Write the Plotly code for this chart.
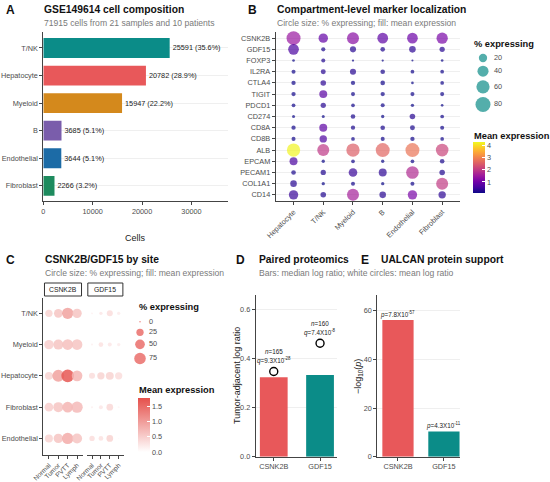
import math
import plotly.graph_objects as go

W, H = 550, 482
def px(x): return x / W
def py(y): return 1 - y / H

FONT = "Liberation Sans, Arial, sans-serif"
RED = "#E8585A"
TEAL = "#0B8C88"

# ---------------- Panel A data ----------------
cell_types = ["T/NK", "Hepatocyte", "Myeloid", "B", "Endothelial", "Fibroblast"]
cell_counts = [25591, 20782, 15947, 3685, 3644, 2266]
cell_colors = [TEAL, RED, "#D4891C", "#7A5DAB", "#1C6BA6", "#1E8B5E"]

# ---------------- Panel B data ----------------
markers_b = ["CSNK2B", "GDF15", "FOXP3", "IL2RA", "CTLA4", "TIGIT", "PDCD1", "CD274",
             "CD8A", "CD8B", "ALB", "EPCAM", "PECAM1", "COL1A1", "CD14"]
compartments_b = ["Hepatocyte", "T/NK", "Myeloid", "B", "Endothelial", "Fibroblast"]
pct_b = [
    [68, 27, 48, 37, 37, 42],
    [37, 3, 9, 4, 11, 6],
    [0.5, 2.6, 0.2, 0.2, 0.1, 0.5],
    [2.6, 5, 9, 4, 2, 2],
    [3.3, 7, 3.3, 4, 0.5, 2],
    [3.3, 18, 2.6, 3.3, 2.6, 2.6],
    [2, 6, 2, 2.6, 1.3, 0.5],
    [0.9, 0.9, 4, 1.3, 7, 2],
    [3.3, 18, 3.3, 4, 5, 2.6],
    [2.6, 15, 2, 2.6, 3.3, 2],
    [61, 48, 61, 68, 68, 54],
    [18, 1.3, 2, 1.3, 2, 4],
    [4, 6, 22, 18, 54, 7],
    [11, 1.3, 2.6, 1.3, 2.6, 48],
    [27, 7, 48, 11, 27, 15],
]
mean_b = [
    [1.45, 0.85, 1.25, 0.8, 0.95, 1.1],
    [0.6, 0.2, 0.3, 0.25, 0.35, 0.3],
    [0.1, 0.25, 0.1, 0.1, 0.1, 0.1],
    [0.15, 0.3, 0.3, 0.2, 0.15, 0.15],
    [0.15, 0.35, 0.15, 0.15, 0.1, 0.15],
    [0.15, 0.75, 0.15, 0.15, 0.15, 0.15],
    [0.15, 0.3, 0.15, 0.15, 0.1, 0.1],
    [0.1, 0.1, 0.2, 0.1, 0.3, 0.15],
    [0.15, 0.8, 0.2, 0.2, 0.2, 0.15],
    [0.15, 0.65, 0.15, 0.15, 0.15, 0.15],
    [4.2, 1.95, 2.5, 2.6, 2.8, 2.15],
    [0.6, 0.1, 0.15, 0.1, 0.15, 0.2],
    [0.2, 0.25, 0.45, 0.35, 1.75, 0.25],
    [0.3, 0.1, 0.15, 0.1, 0.15, 2.0],
    [0.45, 0.25, 1.6, 0.3, 1.1, 0.35],
]
size_breaks_b = [20, 40, 60, 80]

# ---------------- Panel C data ----------------
sites_c = ["Normal", "Tumor", "PVTT", "Lymph"]
celltypes_c = ["T/NK", "Myeloid", "Hepatocyte", "Fibroblast", "Endothelial"]
pct_c_csnk2b = [
    [25, 38, 72, 46],
    [46, 54, 62, 62],
    [31, 82, 93, 62],
    [38, 54, 62, 72],
    [31, 46, 72, 54],
]
mean_c_csnk2b = [
    [0.45, 0.6, 0.95, 0.6],
    [0.5, 0.6, 0.65, 0.6],
    [0.45, 0.95, 1.7, 0.75],
    [0.5, 0.6, 0.75, 0.7],
    [0.45, 0.6, 0.85, 0.6],
]
pct_c_gdf15 = [
    [0.1, 2.5, 15, 2.5],
    [0.2, 7.5, 4.6, 2.5],
    [15, 25, 31, 25],
    [0.2, 4.6, 20, 0.1],
    [11, 7.5, 20, 0.0],
]
mean_c_gdf15 = [
    [0.15, 0.25, 0.35, 0.2],
    [0.15, 0.3, 0.25, 0.2],
    [0.35, 0.45, 0.45, 0.35],
    [0.15, 0.25, 0.4, 0.1],
    [0.35, 0.3, 0.45, 0.05],
]
size_breaks_c = [0, 25, 50, 75]

# ---------------- Panel D data ----------------
prot_genes = ["CSNK2B", "GDF15"]
prot_median = [0.323, 0.332]
prot_mean = [0.346, 0.461]
prot_n = [165, 160]
prot_q = [9.3e-28, 7.4e-8]

# ---------------- Panel E data ----------------
ualcan_genes = ["CSNK2B", "GDF15"]
ualcan_p = [7.8e-57, 4.3e-11]


def sci(v):
    m, e = f"{v:.1e}".split("e")
    return f"{m}X10<sup>{int(e)}</sup>"

def size_b(p): return 1.6 + 1.5 * math.sqrt(p)
def size_c(p): return 1.5 + 1.16 * math.sqrt(p)

fig = go.Figure()

# ---- A ----
total = sum(cell_counts)
labels_a = [f"{c} ({100 * c / total:.1f}%)" for c in cell_counts]
fig.add_trace(go.Bar(
    y=cell_types, x=cell_counts, orientation="h", marker=dict(color=cell_colors, line_width=0),
    width=0.72, text=labels_a, textposition="outside", constraintext="none", cliponaxis=False,
    textfont=dict(size=7.3, color="#222", family=FONT), xaxis="x", yaxis="y", hoverinfo="skip"))

# ---- B ----
bx, by, bs, bc = [], [], [], []
for i, g in enumerate(markers_b):
    for j, c in enumerate(compartments_b):
        bx.append(c); by.append(g); bs.append(size_b(pct_b[i][j])); bc.append(mean_b[i][j])
fig.add_trace(go.Scatter(
    x=bx, y=by, mode="markers", xaxis="x2", yaxis="y2", cliponaxis=False,
    marker=dict(size=bs, sizemode="diameter", color=bc, coloraxis="coloraxis", line_width=0),
    hoverinfo="skip"))

# ---- C ----
for pcts, means, xa in [(pct_c_csnk2b, mean_c_csnk2b, "x3"), (pct_c_gdf15, mean_c_gdf15, "x4")]:
    cx, cy, cs, cc = [], [], [], []
    for i, ct in enumerate(celltypes_c):
        for j, s in enumerate(sites_c):
            cx.append(s); cy.append(ct); cs.append(size_c(pcts[i][j])); cc.append(means[i][j])
    fig.add_trace(go.Scatter(
        x=cx, y=cy, mode="markers", xaxis=xa, yaxis="y3", cliponaxis=False,
        marker=dict(size=cs, sizemode="diameter", color=cc, coloraxis="coloraxis2",
                    opacity=0.85, line_width=0), hoverinfo="skip"))

# ---- D ----
fig.add_trace(go.Bar(x=prot_genes, y=prot_median, marker=dict(color=[RED, TEAL], line_width=0),
                     width=0.6, xaxis="x5", yaxis="y5", hoverinfo="skip"))
fig.add_trace(go.Scatter(x=prot_genes, y=prot_mean, mode="markers", xaxis="x5", yaxis="y5",
                         cliponaxis=False,
                         marker=dict(size=8, color="white", line=dict(color="black", width=1.4)),
                         hoverinfo="skip"))

# ---- E ----
neglog = [-math.log10(p) for p in ualcan_p]
fig.add_trace(go.Bar(x=ualcan_genes, y=neglog, marker=dict(color=[RED, TEAL], line_width=0),
                     width=0.68, xaxis="x6", yaxis="y6", hoverinfo="skip"))

# ---- legends (overlay axis in pixel units) ----
def legend_positions(sizes, y0):
    hs = [max(d, 7) + 3.5 for d in sizes]
    ys = [y0]
    for k in range(1, len(hs)):
        ys.append(ys[-1] + (hs[k - 1] + hs[k]) / 2)
    return ys

sb = [size_b(v) for v in size_breaks_b]
yb = legend_positions(sb, 58)
fig.add_trace(go.Scatter(x=[483] * len(sb), y=yb, mode="markers", xaxis="x7", yaxis="y7",
                         marker=dict(size=sb, color=TEAL, line_width=0), cliponaxis=False,
                         hoverinfo="skip"))
fig.add_trace(go.Scatter(x=[494] * len(sb), y=yb, mode="text", text=[str(v) for v in size_breaks_b],
                         textposition="middle right", xaxis="x7", yaxis="y7", cliponaxis=False,
                         textfont=dict(size=7.3, color="#4D4D4D", family=FONT), hoverinfo="skip"))

sc = [size_c(v) for v in size_breaks_c]
yc = legend_positions(sc, 321.7)
fig.add_trace(go.Scatter(x=[140] * len(sc), y=yc, mode="markers", xaxis="x7", yaxis="y7",
                         marker=dict(size=sc, color="#E5504B", line_width=0), cliponaxis=False,
                         hoverinfo="skip"))
fig.add_trace(go.Scatter(x=[149] * len(sc), y=yc, mode="text", text=[str(v) for v in size_breaks_c],
                         textposition="middle right", xaxis="x7", yaxis="y7", cliponaxis=False,
                         textfont=dict(size=7.3, color="#4D4D4D", family=FONT), hoverinfo="skip"))

# ---------------- layout ----------------
tickfont = dict(size=7.3, color="#4D4D4D", family=FONT)
ax = dict(showline=True, linecolor="#444", linewidth=1, ticks="outside", ticklen=3,
          tickcolor="#444", tickwidth=1, tickfont=tickfont, zeroline=False, showgrid=False,
          fixedrange=True, automargin=False)
GRID = "#EFEFEF"

layout = dict(
    width=W, height=H, margin=dict(l=0, r=0, t=0, b=0, autoexpand=False), showlegend=False,
    paper_bgcolor="white", plot_bgcolor="rgba(0,0,0,0)", font=dict(family=FONT),
    xaxis=dict(ax, domain=[px(43.3), px(228)], range=[0, 37400], anchor="y",
               tickvals=[0, 10000, 20000, 30000], tickformat="d"),
    yaxis=dict(ax, domain=[py(201), py(32)], anchor="x", type="category",
               categoryorder="array", categoryarray=cell_types, range=[5.55, -0.58],
               showgrid=True, gridcolor=GRID, gridwidth=0.6),
    xaxis2=dict(ax, domain=[px(275.7), px(460)], anchor="y2", type="category",
                categoryorder="array", categoryarray=compartments_b, range=[-0.6, 5.6],
                tickangle=-45),
    yaxis2=dict(ax, domain=[py(201), py(32)], anchor="x2", type="category",
                categoryorder="array", categoryarray=markers_b, range=[14.55, -0.55],
                showgrid=True, gridcolor=GRID, gridwidth=0.6),
    xaxis3=dict(ax, domain=[px(43.3), px(82.7)], anchor="y3", type="category",
                categoryorder="array", categoryarray=sites_c, range=[-0.6, 3.6],
                tickangle=-45, tickfont=dict(tickfont, size=6.6)),
    xaxis4=dict(ax, domain=[px(86.7), px(124)], anchor="y3", type="category",
                categoryorder="array", categoryarray=sites_c, range=[-0.6, 3.6],
                tickangle=-45, tickfont=dict(tickfont, size=6.6)),
    yaxis3=dict(ax, domain=[py(455), py(298)], anchor="x3", type="category",
                categoryorder="array", categoryarray=celltypes_c, range=[4.53, -0.49]),
    xaxis5=dict(ax, domain=[px(255.7), px(336.7)], anchor="y5", type="category",
                categoryorder="array", categoryarray=prot_genes, range=[-0.39, 1.36]),
    yaxis5=dict(ax, domain=[py(456.7), py(295)], anchor="x5", range=[0, 0.657],
                tickvals=[0, 0.2, 0.4, 0.6], tickformat=".1f",
                showgrid=True, gridcolor=GRID, gridwidth=0.6),
    xaxis6=dict(ax, domain=[px(377.3), px(460)], anchor="y6", type="category",
                categoryorder="array", categoryarray=ualcan_genes, range=[-0.45, 1.35]),
    yaxis6=dict(ax, domain=[py(456.7), py(295)], anchor="x6", range=[0, 66.4],
                tickvals=[0, 20, 40, 60], showgrid=True, gridcolor=GRID, gridwidth=0.6),
    xaxis7=dict(domain=[0, 1], range=[0, W], visible=False, anchor="y7", fixedrange=True),
    yaxis7=dict(domain=[0, 1], range=[H, 0], visible=False, anchor="x7", fixedrange=True),
    coloraxis=dict(
        colorscale="Plasma", cmin=0.1, cmax=4.25,
        colorbar=dict(x=px(473), xanchor="left", y=py(142), yanchor="top",
                      len=51, lenmode="pixels", thickness=12, thicknessmode="pixels",
                      outlinewidth=0, xpad=0, ypad=0, tickvals=[1, 2, 3, 4],
                      ticks="inside", tickcolor="white", ticklen=3,
                      tickfont=tickfont, title=dict(text=""))),
    coloraxis2=dict(
        colorscale=[[0, "#FFFFFF"], [1, "#E5504B"]], cmin=0, cmax=1.78,
        colorbar=dict(x=px(138), xanchor="left", y=py(398), yanchor="top",
                      len=54, lenmode="pixels", thickness=12, thicknessmode="pixels",
                      outlinewidth=0, xpad=0, ypad=0, tickvals=[0, 0.5, 1.0, 1.5],
                      tickformat=".1f", ticks="inside", tickcolor="white", ticklen=3,
                      tickfont=tickfont, title=dict(text=""))),
)
fig.update_layout(**layout)

anns = []
def ann(text, x, y, size, color="#111", xanchor="left", angle=0, **kw):
    d = dict(text=text, x=px(x), y=py(y), xref="paper", yref="paper", showarrow=False,
             xanchor=xanchor, yanchor="middle", textangle=angle,
             font=dict(size=size, color=color, family=FONT))
    d.update(kw)
    anns.append(d)

SUB = "#7A7A7A"
TS = 10.3
SS = 8.6
# panel letters & titles
ann("<b>A</b>", 10, 10, 12, xanchor="center")
ann("<b>GSE149614 cell composition</b>", 42, 9, TS)
ann(f"{total} cells from 21 samples and 10 patients", 42, 23, SS, color=SUB)
ann("<b>B</b>", 252, 10, 12, xanchor="center")
ann("<b>Compartment-level marker localization</b>", 275, 9, TS)
ann("Circle size: % expressing; fill: mean expression", 275, 23, SS, color=SUB)
ann("<b>C</b>", 10.6, 259.5, 12, xanchor="center")
ann("<b>CSNK2B/GDF15 by site</b>", 43, 259, TS)
ann("Circle size: % expressing; fill: mean expression", 43, 272.6, SS, color=SUB)
ann("<b>D</b>", 240, 259.5, 12, xanchor="center")
ann("<b>Paired proteomics</b>", 256.5, 259, TS)
ann("Bars: median log ratio; white circles: mean log ratio", 256.5, 272.6, SS, color=SUB)
ann("<b>E</b>", 365, 259.5, 12, xanchor="center")
ann("<b>UALCAN protein support</b>", 379.5, 259, TS)

# axis titles
ann("Cells", 135.7, 238, 9, color="#222", xanchor="center")
ann("Tumor-adjacent log ratio", 237, 376, 9, color="#222", xanchor="center", angle=-90)
ann("\u2212log<sub>10</sub>(<i>p</i>)", 358, 377, 9, color="#222", xanchor="center", angle=-90)

# legend titles
ann("<b>% expressing</b>", 472, 44, 9.3)
ann("<b>Mean expression</b>", 472, 136, 9.3)
ann("<b>% expressing</b>", 137, 307, 9.3)
ann("<b>Mean expression</b>", 137, 390, 9.3)

# strip labels for C
shapes = []
for xa, g in [("x3", "CSNK2B"), ("x4", "GDF15")]:
    shapes.append(dict(type="rect", xref=f"{xa} domain", yref="paper", x0=0.03, x1=0.97,
                       y0=py(296), y1=py(283), line=dict(color="#333", width=1),
                       fillcolor="white"))
    anns.append(dict(text=g, xref=f"{xa} domain", yref="paper", x=0.5, y=py(289.5),
                     showarrow=False, xanchor="center", yanchor="middle",
                     font=dict(size=6.8, color="#222", family=FONT)))

# D annotations
for g, m, n, q in zip(prot_genes, prot_mean, prot_n, prot_q):
    anns.append(dict(text=f"<i>n</i>={n}", x=g, y=m, xref="x5", yref="y5", yshift=20,
                     showarrow=False, font=dict(size=6.3, color="#222", family=FONT)))
    anns.append(dict(text=f"<i>q</i>={sci(q)}", x=g, y=m, xref="x5", yref="y5", yshift=11,
                     showarrow=False, font=dict(size=6.3, color="#222", family=FONT)))
# E annotations
for g, v, p in zip(ualcan_genes, neglog, ualcan_p):
    anns.append(dict(text=f"<i>p</i>={sci(p)}", x=g, y=v, xref="x6", yref="y6", yshift=6,
                     showarrow=False, font=dict(size=6.3, color="#222", family=FONT)))

fig.update_layout(annotations=anns, shapes=shapes)
fig.write_html("out.html", config={"displayModeBar": False},
               post_script="document.body.style.margin='0';")
